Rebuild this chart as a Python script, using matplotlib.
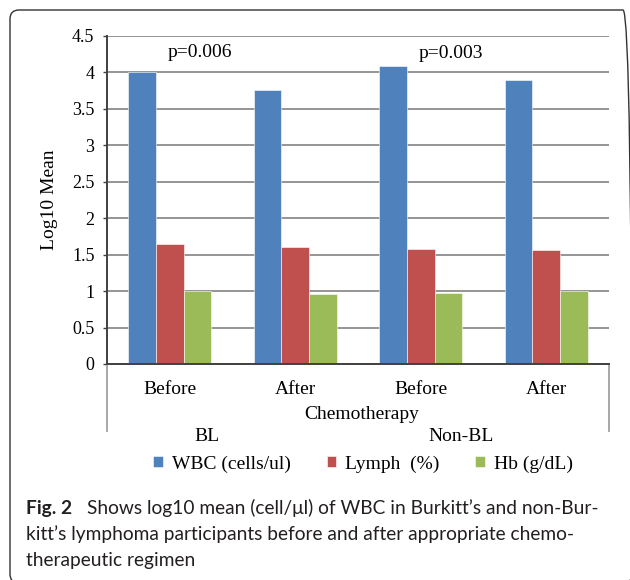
import numpy as np
import matplotlib
matplotlib.use("Agg")
import matplotlib.pyplot as plt
from matplotlib.patches import FancyBboxPatch

# data
categories = ["Before", "After", "Before", "After"]
groups = ["BL", "Non-BL"]
series = ["WBC (cells/ul)", "Lymph  (%)", "Hb (g/dL)"]
wbc = [4.01, 3.76, 4.09, 3.90]
lymph = [1.64, 1.60, 1.58, 1.56]
hb = [1.00, 0.96, 0.97, 1.00]
pvals = ["p=0.006", "p=0.003"]
yticks = [0, 0.5, 1, 1.5, 2, 2.5, 3, 3.5, 4, 4.5]
yticklabels = ["0", "0.5", "1", "1.5", "2", "2.5", "3", "3.5", "4", "4.5"]

colors = ["#4F81BD", "#C0504D", "#9BBB59"]
serif = "Liberation Serif"

fig = plt.figure(figsize=(6.3, 5.8), dpi=100)
ax = fig.add_axes([107/630, 1-364/580, (609-107)/630, (364-36)/580])

x = np.arange(len(categories))
w = 0.22
bars = []
for i, (vals, c) in enumerate(zip([wbc, lymph, hb], colors)):
    b = ax.bar(x + (i-1)*w, vals, w, color=c, edgecolor="white", linewidth=0.4,
               label=series[i], zorder=3)
    bars.append(b)

ax.set_xlim(-0.5, 3.5)
ax.set_ylim(0, 4.5)
ax.set_yticks(yticks)
ax.set_yticklabels(yticklabels, fontfamily=serif, fontsize=13)
ax.set_xticks(x)
ax.set_xticklabels(categories, fontfamily=serif, fontsize=14)
ax.tick_params(axis="x", length=0, pad=12)
ax.tick_params(axis="y", direction="out", length=3, width=1, color="#404040", pad=6)
ax.yaxis.grid(True, color="#8c8c8c", linewidth=1.3, zorder=0)
ax.set_axisbelow(True)
for s in ["top", "right"]:
    ax.spines[s].set_visible(False)
for s in ["left", "bottom"]:
    ax.spines[s].set_color("#404040")
    ax.spines[s].set_linewidth(1.4)
ax.spines["bottom"].set_zorder(4)

ax.set_ylabel("Log10 Mean", fontfamily=serif, fontsize=14, labelpad=10)

# p values over the groups
ax.text(0.24, 4.27, pvals[0], ha="center", va="center", fontfamily=serif, fontsize=14)
ax.text(2.24, 4.26, pvals[1], ha="center", va="center", fontfamily=serif, fontsize=14)

# multi-level category axis
tr = ax.get_xaxis_transform()
ax.text(1.53, -0.153, "Chemotherapy", transform=tr, ha="center", va="center",
        fontfamily=serif, fontsize=14)
ax.text(0.30, -0.22, groups[0], transform=tr, ha="center", va="center",
        fontfamily=serif, fontsize=14)
ax.text(2.32, -0.22, groups[1], transform=tr, ha="center", va="center",
        fontfamily=serif, fontsize=14)
for xv in [-0.5, 3.5]:
    ax.plot([xv, xv], [0, -0.204], transform=tr, color="#a0a0a0", linewidth=1.3,
            clip_on=False)

leg = fig.legend(handles=[b.patches[0] for b in bars], labels=series,
                 loc="center", bbox_to_anchor=(363/630, 1-464/580), ncol=3,
                 frameon=False, handlelength=0.5, handleheight=0.5,
                 handletextpad=0.45, columnspacing=1.85,
                 prop={"family": serif, "size": 14})

# caption
cap_font = "Lato"
cap_size = 13.8
fig.text(26/630, 1-514/580, "Fig. 2", fontfamily=cap_font, fontweight="bold",
         fontsize=cap_size, va="baseline", color="#231f20")
fig.text(87/630, 1-514/580, "Shows log10 mean (cell/\u03bcl) of WBC in Burkitt\u2019s and non-Bur-",
         fontfamily=cap_font, fontsize=cap_size, va="baseline", color="#231f20")
fig.text(26/630, 1-540/580, "kitt\u2019s lymphoma participants before and after appropriate chemo-",
         fontfamily=cap_font, fontsize=cap_size, va="baseline", color="#231f20")
fig.text(26/630, 1-566/580, "therapeutic regimen",
         fontfamily=cap_font, fontsize=cap_size, va="baseline", color="#231f20")

# rounded frame (only top and left visible)
frame = FancyBboxPatch((0.10, -0.03), 6.22, 5.73,
                       boxstyle="round,pad=0,rounding_size=0.09",
                       transform=fig.dpi_scale_trans, fill=False,
                       edgecolor="#333333", linewidth=1.0)
fig.patches.append(frame)

fig.savefig("out.png", dpi=100)
